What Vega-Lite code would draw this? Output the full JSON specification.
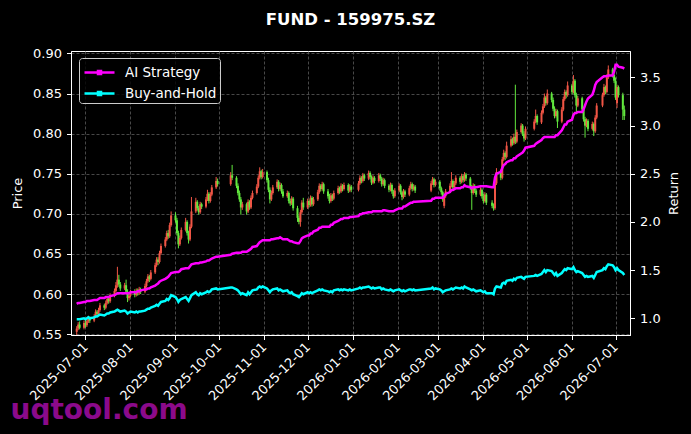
{
  "$schema": "https://vega.github.io/schema/vega-lite/v6.json",
  "description": "Candlestick of 159975.SZ with AI strategy and buy-and-hold return lines.",
  "background": "black",
  "width": 559,
  "height": 284,
  "autosize": "none",
  "padding": {"left": 71, "top": 51, "right": 61, "bottom": 99},
  "config": {
    "font": "DejaVu Sans",
    "view": {"stroke": "white", "strokeWidth": 1},
    "axis": {
      "domainColor": "white",
      "tickColor": "white",
      "labelColor": "white",
      "titleColor": "white",
      "labelFontSize": 13,
      "titleFontSize": 13,
      "titleFontWeight": "normal",
      "tickSize": 4.5,
      "labelPadding": 5,
      "gridColor": "#5a5a5a",
      "gridDash": [3, 2],
      "gridWidth": 0.8
    },
    "legend": {
      "orient": "none",
      "legendX": 8,
      "legendY": 7,
      "fillColor": "rgba(0,0,0,0.8)",
      "strokeColor": "#cccccc",
      "cornerRadius": 3,
      "padding": 3,
      "symbolType": "M-1.5,0H1.5M-0.15,-0.15H0.15V0.15H-0.15Z",
      "symbolSize": 400,
      "symbolStrokeWidth": 2.5,
      "symbolOffset": 6,
      "labelFontSize": 13.5,
      "labelColor": "white",
      "labelOffset": 14,
      "rowPadding": 3
    }
  },
  "title": {
    "text": "FUND - 159975.SZ",
    "color": "white",
    "fontSize": 16.5,
    "fontWeight": "bold",
    "anchor": "middle",
    "baseline": "alphabetic",
    "offset": 6
  },
  "data": {
    "values": [
      {"d":"2025-06-25","o":0.553,"h":0.560,"l":0.549,"c":0.557,"a":1.15,"b":0.99},
      {"d":"2025-06-26","o":0.557,"h":0.565,"l":0.555,"c":0.562,"a":1.16,"b":0.99},
      {"d":"2025-06-27","o":0.562,"h":0.566,"l":0.556,"c":0.558,"a":1.16,"b":0.99},
      {"d":"2025-06-30","o":0.558,"h":0.567,"l":0.556,"c":0.564,"a":1.17,"b":1.00},
      {"d":"2025-07-01","o":0.564,"h":0.568,"l":0.558,"c":0.561,"a":1.17,"b":0.99},
      {"d":"2025-07-02","o":0.561,"h":0.569,"l":0.559,"c":0.566,"a":1.18,"b":1.00},
      {"d":"2025-07-03","o":0.566,"h":0.573,"l":0.564,"c":0.570,"a":1.18,"b":1.01},
      {"d":"2025-07-04","o":0.570,"h":0.572,"l":0.564,"c":0.567,"a":1.18,"b":1.00},
      {"d":"2025-07-07","o":0.567,"h":0.575,"l":0.565,"c":0.572,"a":1.19,"b":1.01},
      {"d":"2025-07-08","o":0.572,"h":0.581,"l":0.570,"c":0.578,"a":1.19,"b":1.02},
      {"d":"2025-07-09","o":0.578,"h":0.580,"l":0.572,"c":0.575,"a":1.19,"b":1.02},
      {"d":"2025-07-10","o":0.575,"h":0.583,"l":0.573,"c":0.580,"a":1.20,"b":1.03},
      {"d":"2025-07-11","o":0.580,"h":0.589,"l":0.578,"c":0.586,"a":1.21,"b":1.04},
      {"d":"2025-07-14","o":0.586,"h":0.588,"l":0.580,"c":0.583,"a":1.21,"b":1.03},
      {"d":"2025-07-15","o":0.583,"h":0.592,"l":0.581,"c":0.589,"a":1.22,"b":1.04},
      {"d":"2025-07-16","o":0.589,"h":0.597,"l":0.587,"c":0.594,"a":1.22,"b":1.05},
      {"d":"2025-07-17","o":0.594,"h":0.596,"l":0.588,"c":0.591,"a":1.22,"b":1.05},
      {"d":"2025-07-18","o":0.591,"h":0.601,"l":0.589,"c":0.598,"a":1.23,"b":1.06},
      {"d":"2025-07-21","o":0.598,"h":0.607,"l":0.596,"c":0.604,"a":1.24,"b":1.07},
      {"d":"2025-07-22","o":0.604,"h":0.615,"l":0.602,"c":0.611,"a":1.25,"b":1.08},
      {"d":"2025-07-23","o":0.611,"h":0.634,"l":0.608,"c":0.618,"a":1.26,"b":1.09},
      {"d":"2025-07-24","o":0.618,"h":0.624,"l":0.609,"c":0.612,"a":1.26,"b":1.08},
      {"d":"2025-07-25","o":0.612,"h":0.615,"l":0.604,"c":0.607,"a":1.26,"b":1.07},
      {"d":"2025-07-28","o":0.607,"h":0.614,"l":0.605,"c":0.611,"a":1.26,"b":1.08},
      {"d":"2025-07-29","o":0.611,"h":0.618,"l":0.600,"c":0.603,"a":1.26,"b":1.07},
      {"d":"2025-07-30","o":0.603,"h":0.606,"l":0.590,"c":0.595,"a":1.26,"b":1.05},
      {"d":"2025-07-31","o":0.595,"h":0.601,"l":0.592,"c":0.598,"a":1.26,"b":1.06},
      {"d":"2025-08-01","o":0.598,"h":0.605,"l":0.596,"c":0.602,"a":1.27,"b":1.07},
      {"d":"2025-08-04","o":0.602,"h":0.606,"l":0.596,"c":0.599,"a":1.27,"b":1.06},
      {"d":"2025-08-05","o":0.599,"h":0.607,"l":0.597,"c":0.604,"a":1.27,"b":1.07},
      {"d":"2025-08-06","o":0.604,"h":0.607,"l":0.598,"c":0.601,"a":1.28,"b":1.06},
      {"d":"2025-08-07","o":0.601,"h":0.609,"l":0.599,"c":0.606,"a":1.28,"b":1.07},
      {"d":"2025-08-08","o":0.606,"h":0.608,"l":0.600,"c":0.603,"a":1.29,"b":1.07},
      {"d":"2025-08-11","o":0.603,"h":0.613,"l":0.601,"c":0.610,"a":1.30,"b":1.08},
      {"d":"2025-08-12","o":0.610,"h":0.619,"l":0.608,"c":0.616,"a":1.30,"b":1.09},
      {"d":"2025-08-13","o":0.616,"h":0.625,"l":0.614,"c":0.622,"a":1.31,"b":1.10},
      {"d":"2025-08-14","o":0.622,"h":0.624,"l":0.615,"c":0.619,"a":1.31,"b":1.10},
      {"d":"2025-08-15","o":0.619,"h":0.630,"l":0.617,"c":0.627,"a":1.32,"b":1.11},
      {"d":"2025-08-18","o":0.627,"h":0.639,"l":0.625,"c":0.636,"a":1.34,"b":1.13},
      {"d":"2025-08-19","o":0.636,"h":0.646,"l":0.634,"c":0.643,"a":1.35,"b":1.14},
      {"d":"2025-08-20","o":0.643,"h":0.646,"l":0.636,"c":0.640,"a":1.36,"b":1.13},
      {"d":"2025-08-21","o":0.640,"h":0.654,"l":0.638,"c":0.651,"a":1.38,"b":1.15},
      {"d":"2025-08-22","o":0.651,"h":0.663,"l":0.649,"c":0.660,"a":1.39,"b":1.17},
      {"d":"2025-08-25","o":0.660,"h":0.671,"l":0.658,"c":0.668,"a":1.41,"b":1.18},
      {"d":"2025-08-26","o":0.668,"h":0.679,"l":0.666,"c":0.676,"a":1.42,"b":1.20},
      {"d":"2025-08-27","o":0.676,"h":0.680,"l":0.669,"c":0.672,"a":1.43,"b":1.19},
      {"d":"2025-08-28","o":0.672,"h":0.689,"l":0.670,"c":0.686,"a":1.45,"b":1.21},
      {"d":"2025-08-29","o":0.686,"h":0.703,"l":0.684,"c":0.698,"a":1.47,"b":1.24},
      {"d":"2025-09-01","o":0.698,"h":0.702,"l":0.689,"c":0.692,"a":1.48,"b":1.22},
      {"d":"2025-09-02","o":0.692,"h":0.695,"l":0.673,"c":0.676,"a":1.48,"b":1.20},
      {"d":"2025-09-03","o":0.676,"h":0.679,"l":0.657,"c":0.662,"a":1.48,"b":1.17},
      {"d":"2025-09-04","o":0.662,"h":0.673,"l":0.660,"c":0.670,"a":1.49,"b":1.19},
      {"d":"2025-09-05","o":0.670,"h":0.683,"l":0.668,"c":0.680,"a":1.51,"b":1.20},
      {"d":"2025-09-08","o":0.680,"h":0.695,"l":0.678,"c":0.690,"a":1.52,"b":1.22},
      {"d":"2025-09-09","o":0.690,"h":0.692,"l":0.673,"c":0.676,"a":1.52,"b":1.20},
      {"d":"2025-09-10","o":0.676,"h":0.679,"l":0.663,"c":0.668,"a":1.52,"b":1.18},
      {"d":"2025-09-11","o":0.668,"h":0.687,"l":0.666,"c":0.684,"a":1.54,"b":1.21},
      {"d":"2025-09-12","o":0.684,"h":0.721,"l":0.682,"c":0.703,"a":1.56,"b":1.24},
      {"d":"2025-09-15","o":0.703,"h":0.720,"l":0.701,"c":0.715,"a":1.57,"b":1.27},
      {"d":"2025-09-16","o":0.715,"h":0.717,"l":0.704,"c":0.707,"a":1.57,"b":1.25},
      {"d":"2025-09-17","o":0.707,"h":0.710,"l":0.699,"c":0.702,"a":1.57,"b":1.24},
      {"d":"2025-09-18","o":0.702,"h":0.715,"l":0.700,"c":0.712,"a":1.58,"b":1.26},
      {"d":"2025-09-19","o":0.712,"h":0.714,"l":0.706,"c":0.709,"a":1.58,"b":1.25},
      {"d":"2025-09-22","o":0.709,"h":0.721,"l":0.707,"c":0.718,"a":1.59,"b":1.27},
      {"d":"2025-09-23","o":0.718,"h":0.730,"l":0.716,"c":0.725,"a":1.60,"b":1.28},
      {"d":"2025-09-24","o":0.725,"h":0.727,"l":0.713,"c":0.716,"a":1.60,"b":1.27},
      {"d":"2025-09-25","o":0.716,"h":0.727,"l":0.714,"c":0.724,"a":1.61,"b":1.28},
      {"d":"2025-09-26","o":0.724,"h":0.736,"l":0.722,"c":0.733,"a":1.62,"b":1.30},
      {"d":"2025-09-29","o":0.733,"h":0.746,"l":0.731,"c":0.741,"a":1.64,"b":1.31},
      {"d":"2025-09-30","o":0.741,"h":0.744,"l":0.734,"c":0.737,"a":1.64,"b":1.30},
      {"d":"2025-10-09","o":0.737,"h":0.752,"l":0.735,"c":0.748,"a":1.66,"b":1.32},
      {"d":"2025-10-10","o":0.748,"h":0.761,"l":0.742,"c":0.745,"a":1.67,"b":1.32},
      {"d":"2025-10-13","o":0.745,"h":0.747,"l":0.732,"c":0.735,"a":1.68,"b":1.30},
      {"d":"2025-10-14","o":0.735,"h":0.738,"l":0.723,"c":0.726,"a":1.68,"b":1.29},
      {"d":"2025-10-15","o":0.726,"h":0.729,"l":0.715,"c":0.718,"a":1.68,"b":1.27},
      {"d":"2025-10-16","o":0.718,"h":0.721,"l":0.699,"c":0.708,"a":1.68,"b":1.25},
      {"d":"2025-10-17","o":0.708,"h":0.715,"l":0.705,"c":0.712,"a":1.69,"b":1.26},
      {"d":"2025-10-20","o":0.712,"h":0.714,"l":0.699,"c":0.703,"a":1.69,"b":1.24},
      {"d":"2025-10-21","o":0.703,"h":0.718,"l":0.701,"c":0.715,"a":1.70,"b":1.27},
      {"d":"2025-10-22","o":0.715,"h":0.717,"l":0.705,"c":0.708,"a":1.71,"b":1.25},
      {"d":"2025-10-23","o":0.708,"h":0.723,"l":0.706,"c":0.720,"a":1.72,"b":1.27},
      {"d":"2025-10-24","o":0.720,"h":0.729,"l":0.718,"c":0.726,"a":1.74,"b":1.29},
      {"d":"2025-10-27","o":0.726,"h":0.737,"l":0.724,"c":0.734,"a":1.75,"b":1.30},
      {"d":"2025-10-28","o":0.734,"h":0.748,"l":0.732,"c":0.745,"a":1.77,"b":1.32},
      {"d":"2025-10-29","o":0.745,"h":0.758,"l":0.743,"c":0.753,"a":1.79,"b":1.33},
      {"d":"2025-10-30","o":0.753,"h":0.755,"l":0.743,"c":0.746,"a":1.80,"b":1.32},
      {"d":"2025-10-31","o":0.746,"h":0.756,"l":0.744,"c":0.752,"a":1.81,"b":1.33},
      {"d":"2025-11-03","o":0.752,"h":0.754,"l":0.739,"c":0.742,"a":1.81,"b":1.31},
      {"d":"2025-11-04","o":0.742,"h":0.745,"l":0.727,"c":0.730,"a":1.81,"b":1.29},
      {"d":"2025-11-05","o":0.730,"h":0.733,"l":0.713,"c":0.718,"a":1.81,"b":1.27},
      {"d":"2025-11-06","o":0.718,"h":0.729,"l":0.716,"c":0.726,"a":1.82,"b":1.29},
      {"d":"2025-11-07","o":0.726,"h":0.736,"l":0.724,"c":0.733,"a":1.82,"b":1.30},
      {"d":"2025-11-10","o":0.733,"h":0.743,"l":0.731,"c":0.740,"a":1.83,"b":1.31},
      {"d":"2025-11-11","o":0.740,"h":0.742,"l":0.728,"c":0.731,"a":1.83,"b":1.29},
      {"d":"2025-11-12","o":0.731,"h":0.739,"l":0.729,"c":0.736,"a":1.84,"b":1.30},
      {"d":"2025-11-13","o":0.736,"h":0.738,"l":0.725,"c":0.728,"a":1.83,"b":1.29},
      {"d":"2025-11-14","o":0.728,"h":0.731,"l":0.720,"c":0.722,"a":1.82,"b":1.28},
      {"d":"2025-11-17","o":0.722,"h":0.729,"l":0.720,"c":0.726,"a":1.82,"b":1.29},
      {"d":"2025-11-18","o":0.726,"h":0.728,"l":0.713,"c":0.716,"a":1.81,"b":1.27},
      {"d":"2025-11-19","o":0.716,"h":0.719,"l":0.710,"c":0.713,"a":1.80,"b":1.26},
      {"d":"2025-11-20","o":0.713,"h":0.722,"l":0.711,"c":0.719,"a":1.80,"b":1.27},
      {"d":"2025-11-21","o":0.719,"h":0.721,"l":0.704,"c":0.707,"a":1.79,"b":1.25},
      {"d":"2025-11-24","o":0.707,"h":0.710,"l":0.690,"c":0.695,"a":1.78,"b":1.23},
      {"d":"2025-11-25","o":0.695,"h":0.698,"l":0.687,"c":0.690,"a":1.78,"b":1.22},
      {"d":"2025-11-26","o":0.690,"h":0.705,"l":0.684,"c":0.702,"a":1.80,"b":1.24},
      {"d":"2025-11-27","o":0.702,"h":0.717,"l":0.700,"c":0.714,"a":1.83,"b":1.26},
      {"d":"2025-11-28","o":0.714,"h":0.720,"l":0.705,"c":0.708,"a":1.84,"b":1.25},
      {"d":"2025-12-01","o":0.708,"h":0.719,"l":0.706,"c":0.716,"a":1.86,"b":1.27},
      {"d":"2025-12-02","o":0.716,"h":0.718,"l":0.708,"c":0.711,"a":1.86,"b":1.26},
      {"d":"2025-12-03","o":0.711,"h":0.723,"l":0.709,"c":0.720,"a":1.88,"b":1.27},
      {"d":"2025-12-04","o":0.720,"h":0.722,"l":0.709,"c":0.712,"a":1.88,"b":1.26},
      {"d":"2025-12-05","o":0.712,"h":0.721,"l":0.710,"c":0.718,"a":1.90,"b":1.27},
      {"d":"2025-12-08","o":0.718,"h":0.730,"l":0.716,"c":0.727,"a":1.92,"b":1.29},
      {"d":"2025-12-09","o":0.727,"h":0.738,"l":0.725,"c":0.735,"a":1.94,"b":1.30},
      {"d":"2025-12-10","o":0.735,"h":0.737,"l":0.728,"c":0.731,"a":1.94,"b":1.29},
      {"d":"2025-12-11","o":0.731,"h":0.740,"l":0.729,"c":0.737,"a":1.95,"b":1.30},
      {"d":"2025-12-12","o":0.737,"h":0.739,"l":0.725,"c":0.728,"a":1.95,"b":1.29},
      {"d":"2025-12-15","o":0.728,"h":0.731,"l":0.719,"c":0.722,"a":1.95,"b":1.28},
      {"d":"2025-12-16","o":0.722,"h":0.725,"l":0.713,"c":0.716,"a":1.95,"b":1.27},
      {"d":"2025-12-17","o":0.716,"h":0.726,"l":0.714,"c":0.723,"a":1.97,"b":1.28},
      {"d":"2025-12-18","o":0.723,"h":0.725,"l":0.716,"c":0.719,"a":1.97,"b":1.27},
      {"d":"2025-12-19","o":0.719,"h":0.729,"l":0.717,"c":0.726,"a":1.99,"b":1.29},
      {"d":"2025-12-22","o":0.726,"h":0.735,"l":0.724,"c":0.732,"a":2.01,"b":1.30},
      {"d":"2025-12-23","o":0.732,"h":0.734,"l":0.725,"c":0.728,"a":2.02,"b":1.29},
      {"d":"2025-12-24","o":0.728,"h":0.738,"l":0.726,"c":0.735,"a":2.03,"b":1.30},
      {"d":"2025-12-25","o":0.735,"h":0.737,"l":0.728,"c":0.731,"a":2.03,"b":1.29},
      {"d":"2025-12-26","o":0.731,"h":0.739,"l":0.729,"c":0.736,"a":2.04,"b":1.30},
      {"d":"2025-12-29","o":0.736,"h":0.738,"l":0.726,"c":0.729,"a":2.04,"b":1.29},
      {"d":"2025-12-30","o":0.729,"h":0.737,"l":0.727,"c":0.734,"a":2.05,"b":1.30},
      {"d":"2025-12-31","o":0.734,"h":0.736,"l":0.727,"c":0.730,"a":2.05,"b":1.29},
      {"d":"2026-01-05","o":0.730,"h":0.741,"l":0.728,"c":0.738,"a":2.06,"b":1.31},
      {"d":"2026-01-06","o":0.738,"h":0.748,"l":0.736,"c":0.745,"a":2.08,"b":1.32},
      {"d":"2026-01-07","o":0.745,"h":0.747,"l":0.738,"c":0.741,"a":2.08,"b":1.31},
      {"d":"2026-01-08","o":0.741,"h":0.751,"l":0.739,"c":0.748,"a":2.09,"b":1.32},
      {"d":"2026-01-09","o":0.748,"h":0.750,"l":0.741,"c":0.744,"a":2.09,"b":1.32},
      {"d":"2026-01-12","o":0.744,"h":0.754,"l":0.742,"c":0.751,"a":2.10,"b":1.33},
      {"d":"2026-01-13","o":0.751,"h":0.753,"l":0.743,"c":0.746,"a":2.10,"b":1.32},
      {"d":"2026-01-14","o":0.746,"h":0.748,"l":0.736,"c":0.739,"a":2.10,"b":1.31},
      {"d":"2026-01-15","o":0.739,"h":0.748,"l":0.737,"c":0.745,"a":2.11,"b":1.32},
      {"d":"2026-01-16","o":0.745,"h":0.747,"l":0.738,"c":0.741,"a":2.11,"b":1.31},
      {"d":"2026-01-19","o":0.741,"h":0.751,"l":0.739,"c":0.748,"a":2.11,"b":1.32},
      {"d":"2026-01-20","o":0.748,"h":0.750,"l":0.741,"c":0.744,"a":2.11,"b":1.32},
      {"d":"2026-01-21","o":0.744,"h":0.746,"l":0.734,"c":0.737,"a":2.11,"b":1.30},
      {"d":"2026-01-22","o":0.737,"h":0.745,"l":0.735,"c":0.742,"a":2.12,"b":1.31},
      {"d":"2026-01-23","o":0.742,"h":0.744,"l":0.732,"c":0.735,"a":2.12,"b":1.30},
      {"d":"2026-01-26","o":0.735,"h":0.737,"l":0.727,"c":0.730,"a":2.11,"b":1.29},
      {"d":"2026-01-27","o":0.730,"h":0.739,"l":0.728,"c":0.736,"a":2.11,"b":1.30},
      {"d":"2026-01-28","o":0.736,"h":0.738,"l":0.725,"c":0.728,"a":2.11,"b":1.29},
      {"d":"2026-01-29","o":0.728,"h":0.730,"l":0.719,"c":0.722,"a":2.11,"b":1.28},
      {"d":"2026-01-30","o":0.722,"h":0.732,"l":0.720,"c":0.729,"a":2.12,"b":1.29},
      {"d":"2026-02-02","o":0.729,"h":0.738,"l":0.727,"c":0.735,"a":2.14,"b":1.30},
      {"d":"2026-02-03","o":0.735,"h":0.737,"l":0.724,"c":0.727,"a":2.14,"b":1.29},
      {"d":"2026-02-04","o":0.727,"h":0.729,"l":0.717,"c":0.721,"a":2.14,"b":1.28},
      {"d":"2026-02-05","o":0.721,"h":0.731,"l":0.719,"c":0.728,"a":2.16,"b":1.29},
      {"d":"2026-02-06","o":0.728,"h":0.730,"l":0.721,"c":0.724,"a":2.16,"b":1.28},
      {"d":"2026-02-09","o":0.724,"h":0.735,"l":0.722,"c":0.732,"a":2.19,"b":1.30},
      {"d":"2026-02-10","o":0.732,"h":0.740,"l":0.730,"c":0.737,"a":2.20,"b":1.30},
      {"d":"2026-02-11","o":0.737,"h":0.739,"l":0.728,"c":0.731,"a":2.20,"b":1.29},
      {"d":"2026-02-12","o":0.731,"h":0.737,"l":0.729,"c":0.734,"a":2.21,"b":1.30},
      {"d":"2026-02-13","o":0.734,"h":0.736,"l":0.726,"c":0.729,"a":2.21,"b":1.29},
      {"d":"2026-02-24","o":0.729,"h":0.741,"l":0.727,"c":0.738,"a":2.22,"b":1.31},
      {"d":"2026-02-25","o":0.738,"h":0.746,"l":0.736,"c":0.743,"a":2.24,"b":1.32},
      {"d":"2026-02-26","o":0.743,"h":0.745,"l":0.733,"c":0.736,"a":2.24,"b":1.30},
      {"d":"2026-02-27","o":0.736,"h":0.743,"l":0.734,"c":0.740,"a":2.25,"b":1.31},
      {"d":"2026-03-02","o":0.740,"h":0.742,"l":0.729,"c":0.732,"a":2.25,"b":1.30},
      {"d":"2026-03-03","o":0.732,"h":0.734,"l":0.724,"c":0.727,"a":2.25,"b":1.29},
      {"d":"2026-03-04","o":0.727,"h":0.729,"l":0.715,"c":0.718,"a":2.25,"b":1.27},
      {"d":"2026-03-05","o":0.710,"h":0.725,"l":0.707,"c":0.722,"a":2.27,"b":1.28},
      {"d":"2026-03-06","o":0.722,"h":0.731,"l":0.720,"c":0.728,"a":2.29,"b":1.29},
      {"d":"2026-03-09","o":0.728,"h":0.738,"l":0.726,"c":0.735,"a":2.31,"b":1.30},
      {"d":"2026-03-10","o":0.735,"h":0.752,"l":0.733,"c":0.741,"a":2.33,"b":1.31},
      {"d":"2026-03-11","o":0.741,"h":0.743,"l":0.730,"c":0.733,"a":2.33,"b":1.30},
      {"d":"2026-03-12","o":0.733,"h":0.741,"l":0.731,"c":0.738,"a":2.34,"b":1.31},
      {"d":"2026-03-13","o":0.738,"h":0.748,"l":0.736,"c":0.745,"a":2.35,"b":1.32},
      {"d":"2026-03-16","o":0.745,"h":0.747,"l":0.737,"c":0.740,"a":2.35,"b":1.31},
      {"d":"2026-03-17","o":0.740,"h":0.750,"l":0.738,"c":0.747,"a":2.36,"b":1.32},
      {"d":"2026-03-18","o":0.747,"h":0.749,"l":0.739,"c":0.742,"a":2.36,"b":1.31},
      {"d":"2026-03-19","o":0.742,"h":0.752,"l":0.740,"c":0.749,"a":2.38,"b":1.33},
      {"d":"2026-03-20","o":0.749,"h":0.751,"l":0.741,"c":0.744,"a":2.37,"b":1.32},
      {"d":"2026-03-23","o":0.744,"h":0.746,"l":0.730,"c":0.733,"a":2.36,"b":1.30},
      {"d":"2026-03-24","o":0.733,"h":0.736,"l":0.705,"c":0.726,"a":2.35,"b":1.29},
      {"d":"2026-03-25","o":0.726,"h":0.738,"l":0.724,"c":0.735,"a":2.36,"b":1.30},
      {"d":"2026-03-26","o":0.735,"h":0.737,"l":0.726,"c":0.729,"a":2.36,"b":1.29},
      {"d":"2026-03-27","o":0.729,"h":0.731,"l":0.721,"c":0.724,"a":2.36,"b":1.28},
      {"d":"2026-03-30","o":0.724,"h":0.733,"l":0.722,"c":0.730,"a":2.37,"b":1.29},
      {"d":"2026-03-31","o":0.730,"h":0.732,"l":0.719,"c":0.722,"a":2.37,"b":1.28},
      {"d":"2026-04-01","o":0.722,"h":0.725,"l":0.713,"c":0.716,"a":2.37,"b":1.27},
      {"d":"2026-04-02","o":0.716,"h":0.727,"l":0.714,"c":0.724,"a":2.37,"b":1.28},
      {"d":"2026-04-03","o":0.724,"h":0.726,"l":0.711,"c":0.714,"a":2.37,"b":1.26},
      {"d":"2026-04-07","o":0.714,"h":0.717,"l":0.707,"c":0.710,"a":2.36,"b":1.26},
      {"d":"2026-04-08","o":0.710,"h":0.713,"l":0.704,"c":0.707,"a":2.36,"b":1.25},
      {"d":"2026-04-09","o":0.707,"h":0.742,"l":0.705,"c":0.738,"a":2.46,"b":1.31},
      {"d":"2026-04-10","o":0.738,"h":0.757,"l":0.736,"c":0.752,"a":2.50,"b":1.33},
      {"d":"2026-04-13","o":0.752,"h":0.755,"l":0.742,"c":0.745,"a":2.52,"b":1.32},
      {"d":"2026-04-14","o":0.745,"h":0.771,"l":0.743,"c":0.768,"a":2.56,"b":1.36},
      {"d":"2026-04-15","o":0.768,"h":0.780,"l":0.766,"c":0.776,"a":2.59,"b":1.37},
      {"d":"2026-04-16","o":0.776,"h":0.778,"l":0.767,"c":0.771,"a":2.60,"b":1.36},
      {"d":"2026-04-17","o":0.771,"h":0.790,"l":0.769,"c":0.785,"a":2.62,"b":1.39},
      {"d":"2026-04-20","o":0.785,"h":0.797,"l":0.783,"c":0.793,"a":2.64,"b":1.40},
      {"d":"2026-04-21","o":0.793,"h":0.795,"l":0.785,"c":0.788,"a":2.64,"b":1.39},
      {"d":"2026-04-22","o":0.788,"h":0.800,"l":0.786,"c":0.796,"a":2.66,"b":1.41},
      {"d":"2026-04-23","o":0.796,"h":0.861,"l":0.787,"c":0.790,"a":2.66,"b":1.40},
      {"d":"2026-04-24","o":0.790,"h":0.805,"l":0.788,"c":0.802,"a":2.68,"b":1.42},
      {"d":"2026-04-27","o":0.802,"h":0.813,"l":0.800,"c":0.810,"a":2.71,"b":1.43},
      {"d":"2026-04-28","o":0.810,"h":0.812,"l":0.797,"c":0.800,"a":2.72,"b":1.42},
      {"d":"2026-04-29","o":0.800,"h":0.803,"l":0.790,"c":0.794,"a":2.74,"b":1.41},
      {"d":"2026-04-30","o":0.794,"h":0.809,"l":0.792,"c":0.806,"a":2.77,"b":1.43},
      {"d":"2026-05-06","o":0.806,"h":0.818,"l":0.804,"c":0.815,"a":2.79,"b":1.44},
      {"d":"2026-05-07","o":0.815,"h":0.830,"l":0.813,"c":0.822,"a":2.81,"b":1.45},
      {"d":"2026-05-08","o":0.822,"h":0.824,"l":0.811,"c":0.814,"a":2.82,"b":1.44},
      {"d":"2026-05-11","o":0.814,"h":0.829,"l":0.812,"c":0.826,"a":2.85,"b":1.46},
      {"d":"2026-05-12","o":0.826,"h":0.837,"l":0.824,"c":0.834,"a":2.87,"b":1.48},
      {"d":"2026-05-13","o":0.834,"h":0.850,"l":0.832,"c":0.845,"a":2.88,"b":1.50},
      {"d":"2026-05-14","o":0.845,"h":0.847,"l":0.835,"c":0.838,"a":2.88,"b":1.48},
      {"d":"2026-05-15","o":0.838,"h":0.855,"l":0.836,"c":0.850,"a":2.88,"b":1.50},
      {"d":"2026-05-18","o":0.850,"h":0.852,"l":0.839,"c":0.842,"a":2.88,"b":1.49},
      {"d":"2026-05-19","o":0.842,"h":0.845,"l":0.828,"c":0.831,"a":2.88,"b":1.47},
      {"d":"2026-05-20","o":0.831,"h":0.834,"l":0.819,"c":0.822,"a":2.88,"b":1.45},
      {"d":"2026-05-21","o":0.822,"h":0.831,"l":0.820,"c":0.828,"a":2.90,"b":1.47},
      {"d":"2026-05-22","o":0.828,"h":0.830,"l":0.807,"c":0.815,"a":2.90,"b":1.44},
      {"d":"2026-05-25","o":0.815,"h":0.833,"l":0.813,"c":0.830,"a":2.95,"b":1.47},
      {"d":"2026-05-26","o":0.830,"h":0.846,"l":0.828,"c":0.843,"a":2.98,"b":1.49},
      {"d":"2026-05-27","o":0.843,"h":0.855,"l":0.841,"c":0.852,"a":3.01,"b":1.51},
      {"d":"2026-05-28","o":0.852,"h":0.854,"l":0.844,"c":0.848,"a":3.01,"b":1.50},
      {"d":"2026-05-29","o":0.848,"h":0.865,"l":0.846,"c":0.860,"a":3.04,"b":1.52},
      {"d":"2026-06-01","o":0.860,"h":0.862,"l":0.849,"c":0.852,"a":3.06,"b":1.51},
      {"d":"2026-06-02","o":0.852,"h":0.873,"l":0.850,"c":0.866,"a":3.11,"b":1.53},
      {"d":"2026-06-03","o":0.866,"h":0.868,"l":0.845,"c":0.848,"a":3.13,"b":1.50},
      {"d":"2026-06-04","o":0.848,"h":0.851,"l":0.826,"c":0.835,"a":3.13,"b":1.48},
      {"d":"2026-06-05","o":0.835,"h":0.847,"l":0.833,"c":0.844,"a":3.14,"b":1.49},
      {"d":"2026-06-08","o":0.844,"h":0.846,"l":0.827,"c":0.830,"a":3.14,"b":1.47},
      {"d":"2026-06-09","o":0.830,"h":0.833,"l":0.815,"c":0.818,"a":3.17,"b":1.45},
      {"d":"2026-06-10","o":0.818,"h":0.821,"l":0.795,"c":0.810,"a":3.21,"b":1.43},
      {"d":"2026-06-11","o":0.810,"h":0.819,"l":0.808,"c":0.816,"a":3.25,"b":1.44},
      {"d":"2026-06-12","o":0.816,"h":0.818,"l":0.803,"c":0.806,"a":3.28,"b":1.43},
      {"d":"2026-06-15","o":0.806,"h":0.815,"l":0.804,"c":0.812,"a":3.32,"b":1.44},
      {"d":"2026-06-16","o":0.812,"h":0.814,"l":0.797,"c":0.803,"a":3.36,"b":1.42},
      {"d":"2026-06-17","o":0.803,"h":0.823,"l":0.801,"c":0.820,"a":3.42,"b":1.45},
      {"d":"2026-06-18","o":0.820,"h":0.838,"l":0.818,"c":0.835,"a":3.45,"b":1.48},
      {"d":"2026-06-22","o":0.835,"h":0.851,"l":0.833,"c":0.848,"a":3.50,"b":1.50},
      {"d":"2026-06-23","o":0.848,"h":0.862,"l":0.846,"c":0.858,"a":3.51,"b":1.52},
      {"d":"2026-06-24","o":0.858,"h":0.860,"l":0.849,"c":0.852,"a":3.51,"b":1.51},
      {"d":"2026-06-25","o":0.852,"h":0.874,"l":0.850,"c":0.870,"a":3.51,"b":1.54},
      {"d":"2026-06-26","o":0.870,"h":0.885,"l":0.868,"c":0.880,"a":3.52,"b":1.56},
      {"d":"2026-06-29","o":0.880,"h":0.882,"l":0.870,"c":0.873,"a":3.52,"b":1.55},
      {"d":"2026-06-30","o":0.873,"h":0.875,"l":0.863,"c":0.866,"a":3.56,"b":1.53},
      {"d":"2026-07-01","o":0.866,"h":0.870,"l":0.842,"c":0.845,"a":3.63,"b":1.50},
      {"d":"2026-07-02","o":0.838,"h":0.861,"l":0.832,"c":0.858,"a":3.63,"b":1.52},
      {"d":"2026-07-03","o":0.858,"h":0.860,"l":0.845,"c":0.848,"a":3.61,"b":1.50},
      {"d":"2026-07-06","o":0.848,"h":0.851,"l":0.817,"c":0.830,"a":3.60,"b":1.47},
      {"d":"2026-07-07","o":0.830,"h":0.835,"l":0.817,"c":0.822,"a":3.59,"b":1.45}
    ]
  },
  "encoding": {
    "x": {
      "field": "d",
      "type": "temporal",
      "scale": {
        "type": "utc",
        "domain": [
          {"year": 2025, "month": 6, "date": 24, "hours": 12, "utc": true},
          {"year": 2026, "month": 7, "date": 7, "hours": 12, "utc": true}
        ]
      },
      "axis": {
        "tickCount": "month",
        "format": "%Y-%m-%d",
        "labelAngle": -45,
        "labelAlign": "right",
        "labelBaseline": "middle",
        "labelOverlap": false,
        "labelFlush": false,
        "grid": true,
        "title": "uqtool.com",
        "titleColor": "#8b0a8b",
        "titleFontSize": 28,
        "titleFontWeight": "bold",
        "titleAnchor": "start",
        "titleAlign": "left",
        "titleBaseline": "alphabetic",
        "titleX": -61,
        "titleY": 83
      }
    }
  },
  "layer": [
    {
      "layer": [
        {
          "mark": {"type": "rule", "strokeWidth": 1},
          "encoding": {
            "y": {
              "field": "l",
              "type": "quantitative",
              "scale": {"domain": [0.549, 0.903], "nice": false, "zero": false},
              "axis": {
                "title": "Price",
                "values": [0.55, 0.6, 0.65, 0.7, 0.75, 0.8, 0.85, 0.9],
                "format": ".2f",
                "grid": true,
                "titlePadding": 8
              }
            },
            "y2": {"field": "h"},
            "color": {
              "condition": {"test": "datum.c >= datum.o", "value": "#f05545"},
              "value": "#62e83e"
            }
          }
        },
        {
          "mark": {"type": "bar", "size": 2},
          "encoding": {
            "y": {"field": "o", "type": "quantitative"},
            "y2": {"field": "c"},
            "color": {
              "condition": {"test": "datum.c >= datum.o", "value": "#f05545"},
              "value": "#62e83e"
            }
          }
        }
      ]
    },
    {
      "layer": [
        {
          "mark": {"type": "line", "strokeWidth": 2.5},
          "encoding": {
            "y": {
              "field": "a",
              "type": "quantitative",
              "scale": {"domain": [0.827, 3.773], "nice": false, "zero": false},
              "axis": {
                "orient": "right",
                "title": "Return",
                "titleAngle": 270,
                "titleBaseline": "top",
                "values": [1, 1.5, 2, 2.5, 3, 3.5],
                "format": ".1f",
                "grid": false,
                "titlePadding": 7
              }
            },
            "color": {
              "datum": "AI Strategy",
              "type": "nominal",
              "scale": {"domain": ["AI Strategy", "Buy-and-Hold"], "range": ["#ff00ff", "#00ffff"]},
              "legend": {"title": null}
            }
          }
        },
        {
          "mark": {"type": "line", "strokeWidth": 2.5},
          "encoding": {
            "y": {"field": "b", "type": "quantitative"},
            "color": {"datum": "Buy-and-Hold", "type": "nominal"}
          }
        }
      ]
    }
  ],
  "resolve": {"scale": {"y": "independent"}, "axis": {"y": "independent"}}
}
